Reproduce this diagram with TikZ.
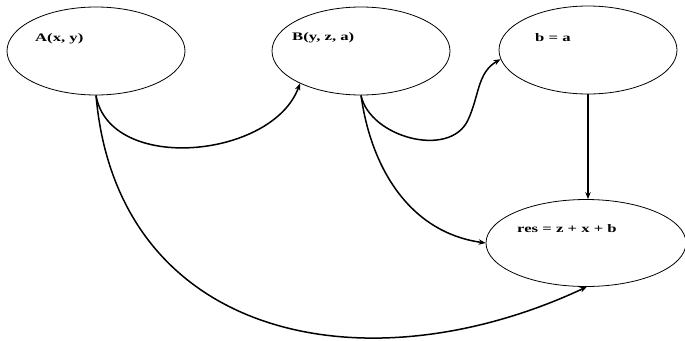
\documentclass[tikz,border=0pt]{standalone}
\usepackage{fontspec}
\setmainfont{Liberation Serif}
\usetikzlibrary{shapes.geometric,arrows.meta}
\begin{document}
\begin{tikzpicture}[x=1pt,y=-1pt,
  oval/.style={ellipse,draw=black,line width=0.8pt,inner sep=0pt,minimum width=178pt,minimum height=88pt},
  lbl/.style={anchor=base west,inner sep=0pt,font=\fontsize{11.5}{13}\selectfont\bfseries},
  conn/.style={line width=1.5pt,-{Stealth[length=7pt,width=5.5pt]}}]
\useasboundingbox (0,0) rectangle (685,340);
\node[oval] (A) at (96,51) {};
\node[oval] (B) at (361,51) {};
\node[oval] (C) at (588,50) {};
\node[oval,minimum width=200pt,minimum height=87pt] (R) at (586,243) {};
\coordinate (m) at (468,120);
\node[lbl] (tA) at (35,41) {\scalebox{1.45}[1]{A(x, y)}};
\node[lbl] (tB) at (292,40) {\scalebox{1.45}[1]{B(y, z, a)}};
\node[lbl] (tC) at (535,41) {\scalebox{1.45}[1]{b = a}};
\node[lbl] (tR) at (517,232) {\scalebox{1.45}[1]{res = z + x + b}};
\draw[conn] (A.south) to[out=-80,in=-110] (B.208);
\draw[conn] (A.south) to[out=-85,in=-155,looseness=1.19] (R.-89);
\draw[conn] (B.-90) to[out=-78,in=-115] (m) to[out=65,in=-150] (C.186);
\draw[conn] (B.-90) to[out=-82,in=172] (R.west);
\draw[conn] (C.south) -- (C.south |- R.north);
\end{tikzpicture}
\end{document}
